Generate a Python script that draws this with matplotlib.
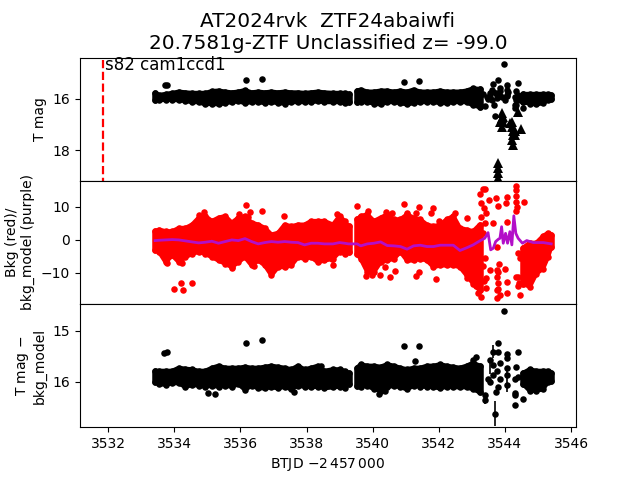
#!/usr/bin/env python3
"""Three stacked TESS panels for AT2024rvk: light curve, background, corrected mag."""
import matplotlib
matplotlib.use("Agg")
import matplotlib.pyplot as plt

SECTOR_START = 3531.84

# times of the dense band; the band is split at the data gap
X_A = [3533.42, 3533.54, 3533.74, 3533.94, 3534.14, 3534.34, 3534.54, 3534.74, 3534.94,
       3535.14, 3535.34, 3535.54, 3535.74, 3535.94, 3536.14, 3536.34, 3536.54, 3536.74,
       3536.94, 3537.14, 3537.34, 3537.54, 3537.74, 3537.94, 3538.14, 3538.34, 3538.54,
       3538.80, 3539.00, 3539.15, 3539.27]
X_B = [3539.53, 3539.64, 3539.84, 3540.04, 3540.24, 3540.44, 3540.64, 3540.84, 3541.04,
       3541.24, 3541.44, 3541.64, 3541.84, 3542.04, 3542.24, 3542.44, 3542.64, 3542.84,
       3543.04, 3543.24]
X_C = [3544.55, 3544.75, 3544.95, 3545.15, 3545.30, 3545.40]

# top panel: T mag envelope of the band
MAG_HI_A = [15.78, 15.86, 15.82, 15.78, 15.73, 15.76, 15.78, 15.78, 15.78, 15.71, 15.69,
            15.73, 15.76, 15.73, 15.67, 15.76, 15.73, 15.76, 15.73, 15.76, 15.73, 15.76,
            15.76, 15.78, 15.76, 15.73, 15.76, 15.78, 15.78, 15.78, 15.82]
MAG_LO_A = [16.06, 16.06, 16.04, 16.04, 16.06, 16.09, 16.13, 16.13, 16.22, 16.19, 16.22,
            16.17, 16.13, 16.10, 16.17, 16.13, 16.13, 16.17, 16.13, 16.17, 16.19, 16.13,
            16.13, 16.13, 16.13, 16.10, 16.13, 16.13, 16.13, 16.17, 16.13]
MAG_HI_B = [15.69, 15.65, 15.73, 15.73, 15.69, 15.69, 15.73, 15.69, 15.73, 15.65, 15.73,
            15.73, 15.73, 15.69, 15.73, 15.73, 15.73, 15.69, 15.60, 15.63]
MAG_LO_B = [16.13, 16.13, 16.13, 16.19, 16.22, 16.13, 16.13, 16.17, 16.22, 16.17, 16.13,
            16.13, 16.13, 16.17, 16.17, 16.13, 16.13, 16.13, 16.26, 16.32]
MAG_HI_C = [15.82, 15.82, 15.82, 15.82, 15.82, 15.86]
MAG_LO_C = [16.13, 16.19, 16.22, 16.17, 16.06, 16.00]

# top panel: single points off the band and around the flare
MAG_PT_X = [3533.73, 3533.78, 3536.17, 3536.65, 3540.95, 3541.40, 3543.98, 3543.80, 3543.65,
            3544.05, 3544.40, 3544.05, 3543.60, 3543.72, 3543.85, 3544.05, 3543.55, 3543.75,
            3543.67, 3543.70, 3543.39, 3544.30, 3544.32, 3544.56, 3544.05, 3543.85, 3544.35,
            3544.37, 3543.90, 3544.00, 3543.60, 3543.50, 3544.35, 3543.35, 3543.45, 3543.55,
            3543.65, 3543.75, 3543.85, 3544.10, 3544.30, 3544.40, 3544.45, 3544.35]
MAG_PT_Y = [15.45, 15.45, 15.26, 15.23, 15.35, 15.30, 14.64, 15.28, 15.41,
            15.45, 15.39, 15.65, 15.65, 15.78, 15.71, 15.91, 15.78, 15.98,
            16.24, 16.67, 16.30, 16.24, 16.37, 16.37, 15.84, 15.58, 15.71,
            15.91, 15.95, 16.05, 16.05, 16.00, 16.05, 15.80, 15.95, 15.95,
            15.75, 15.85, 15.90, 15.75, 15.95, 15.85, 16.05, 16.25]

# top panel: upper limits
LIM_X = [3543.80, 3543.80, 3543.80, 3543.80, 3543.90, 3543.90, 3543.85, 3543.95, 3543.90,
         3544.20, 3544.20, 3544.25, 3544.25, 3544.30, 3544.20, 3544.25, 3544.50, 3544.40,
         3543.95, 3544.15, 3544.30]
LIM_Y = [18.50, 18.70, 18.90, 19.10, 16.55, 16.75, 16.90, 16.90, 17.10,
         16.90, 17.10, 17.25, 17.40, 17.40, 17.60, 17.80, 17.20, 16.50,
         16.70, 16.95, 17.25]

# middle panel: background envelope of the band
RED_HI_A = [2.6, 3.1, 2.6, 2.6, 3.6, 3.6, 4.6, 6.7, 7.2, 5.7, 6.7, 7.2, 5.2, 6.7, 7.2, 5.2,
            4.6, 3.6, 1.6, 2.1, 4.6, 4.1, 4.6, 4.6, 5.7, 5.7, 5.7, 4.6, 7.2, 5.7, 4.1]
RED_LO_A = [-3.1, -3.6, -6.7, -4.7, -6.7, -5.2, -4.2, -3.6, -4.2, -5.2, -6.2, -7.2, -8.2, -6.7,
            -5.2, -7.7, -6.2, -7.7, -10.7, -8.2, -8.2, -7.7, -5.2, -5.7, -5.2, -6.7, -6.2,
            -5.7, -3.6, -4.2, -3.6]
RED_HI_B = [6.2, 7.2, 7.7, 5.7, 6.7, 7.7, 6.2, 6.2, 7.7, 6.7, 6.2, 4.6, 4.1, 4.6, 6.2, 7.2,
            3.6, 3.1, 2.6, 4.6]
RED_LO_B = [-4.2, -5.7, -9.7, -9.7, -6.7, -6.2, -5.7, -3.6, -6.2, -6.2, -5.7, -6.2, -8.2, -7.7,
            -7.7, -7.7, -8.2, -10.7, -13.2, -15.3]
RED_HI_C = [-2.4, -0.9, -0.9, 1.1, 2.1, 1.6]
RED_LO_C = [-13.2, -14.2, -10.2, -8.7, -5.2, -2.1]

RED_PT_X = [3533.98, 3534.20, 3534.28, 3534.55, 3536.16, 3536.29, 3536.65, 3535.95, 3537.31,
            3536.22, 3535.74, 3536.40, 3534.22, 3533.77, 3534.91, 3534.76, 3538.78, 3538.80,
            3538.92, 3539.53, 3539.86, 3540.40, 3540.59, 3540.95, 3541.40, 3541.04, 3541.32,
            3541.83, 3541.75, 3542.48, 3542.86, 3542.01, 3539.80, 3539.98, 3540.22, 3540.53,
            3540.68, 3540.37, 3541.30, 3541.39, 3541.92, 3542.86,
            3543.34, 3543.26, 3543.39, 3543.29, 3543.36, 3543.29, 3543.42, 3543.53, 3543.72,
            3543.80, 3544.05, 3544.03, 3544.33, 3544.35, 3544.33, 3544.33, 3544.59, 3544.05,
            3543.65, 3543.39, 3543.55, 3543.75, 3543.83, 3544.00, 3544.07, 3543.75, 3543.80,
            3543.75, 3543.85, 3543.75, 3544.07, 3544.45, 3544.40, 3544.33, 3544.40, 3543.14,
            3543.29, 3543.19, 3543.44, 3543.39, 3544.40, 3544.45, 3543.77, 3543.34,
            3543.34, 3543.38, 3543.44, 3543.78, 3543.78, 3544.34, 3544.36, 3544.42]
RED_PT_Y = [-14.9, -13.1, -15.3, -13.1, 10.5, 8.4, 8.7, 7.8, 7.2,
            6.9, -8.6, -8.0, -7.1, -7.1, 8.4, 7.6, -5.9, -7.7,
            7.8, 10.3, 8.8, 8.4, 8.1, 10.9, 9.9, 8.1, 8.1,
            9.6, 8.1, 8.1, 6.6, 5.8, -10.8, -10.5, -10.7, -11.3,
            -9.4, -8.3, -11.0, -9.8, -11.9, -11.6,
            15.4, 13.9, 15.4, 11.1, 9.6, 6.9, 8.1, 12.1, 12.6,
            10.3, 13.1, 11.3, 16.4, 15.2, 11.6, 8.9, 11.6, 5.3,
            5.1, 5.0, -9.1, -9.1, -7.4, -8.9, -12.6, -11.1, -13.1,
            -15.2, -16.7, -17.7, -16.2, -16.7, -11.1, -11.1, -14.1, -14.1,
            -17.2, -16.2, -11.6, -5.6, -4.0, -5.6, -2.0, 2.0,
            -8.0, -12.5, -14.5, -14.8, -9.8, 13.2, 10.0, -13.0]

# middle panel: background model
MODEL_X_FLARE = [3543.39, 3543.49, 3543.57, 3543.65, 3543.72, 3543.80, 3543.85, 3543.90,
                 3543.95, 3544.02, 3544.08, 3544.15, 3544.21, 3544.27, 3544.33, 3544.40,
                 3544.53, 3544.66, 3544.86, 3545.16, 3545.40]
MODEL_Y_FLARE = [0.5, 2.2, -3.0, -2.5, -0.5, 0.2, 0.5, 4.0,
                 -1.0, 2.0, -1.0, 2.5, -1.5, 7.3, 2.0, 0.5,
                 -1.0, -0.2, -0.8, -0.8, -1.2]
MODEL_Y_A = [-0.2, -0.1, 0.0, 0.1, 0.0, -0.3, -0.6, -0.9, -0.7, -0.4, -1.0, -0.5, 0.0, -0.2,
             0.4, -0.5, -1.2, -0.8, -0.5, -0.7, -0.5, -0.7, -0.8, -1.5, -1.0, -1.0, -1.2,
             -1.2, -0.8, -1.0, -1.2]
MODEL_Y_B = [-1.2, -1.8, -1.2, -1.0, -0.6, -1.7, -1.8, -2.0, -2.8, -1.8, -1.6, -2.0, -2.0, -1.6,
             -1.6, -1.6, -3.2, -2.4, -1.5, -0.3]

# bottom panel: corrected mag envelope
COR_HI_A = [15.79, 15.79, 15.79, 15.79, 15.73, 15.75, 15.76, 15.79, 15.79, 15.73, 15.69,
            15.73, 15.73, 15.73, 15.71, 15.73, 15.73, 15.71, 15.69, 15.71, 15.73, 15.76,
            15.69, 15.76, 15.73, 15.69, 15.79, 15.76, 15.76, 15.79, 15.83]
COR_LO_A = [16.01, 16.05, 16.06, 16.03, 16.03, 16.11, 16.06, 16.08, 16.10, 16.08, 16.10,
            16.08, 16.10, 16.05, 16.16, 16.08, 16.13, 16.13, 16.11, 16.13, 16.10, 16.15,
            16.08, 16.10, 16.11, 16.10, 16.13, 16.11, 16.10, 16.13, 16.05]
COR_HI_B = [15.73, 15.66, 15.69, 15.69, 15.71, 15.66, 15.69, 15.73, 15.76, 15.73, 15.73,
            15.69, 15.69, 15.66, 15.69, 15.71, 15.73, 15.69, 15.63, 15.69]
COR_LO_B = [16.08, 16.10, 16.08, 16.15, 16.18, 16.11, 16.08, 16.11, 16.15, 16.08, 16.10,
            16.10, 16.11, 16.13, 16.10, 16.11, 16.11, 16.11, 16.15, 16.21]
COR_HI_C = [15.83, 15.76, 15.79, 15.79, 15.79, 15.83]
COR_LO_C = [16.05, 16.18, 16.18, 16.15, 16.01, 15.98]

COR_PT_X = [3533.68, 3533.78, 3536.17, 3536.65, 3538.44, 3535.01, 3535.24, 3537.63, 3540.95,
            3541.40, 3541.27, 3543.04, 3543.14, 3540.19, 3540.36, 3543.98, 3543.80, 3543.65,
            3543.80, 3544.05, 3544.05, 3544.40, 3543.55, 3543.65, 3543.85, 3543.75, 3543.65,
            3543.85, 3543.55, 3544.05, 3544.05, 3544.07, 3544.35, 3544.40, 3544.30, 3543.78,
            3543.72, 3543.70, 3544.31, 3544.32, 3544.32, 3544.56, 3543.39, 3543.39, 3543.49]
COR_PT_Y = [15.44, 15.42, 15.24, 15.18, 15.69, 16.23, 16.25, 16.21, 15.30,
            15.30, 15.59, 15.57, 15.52, 16.25, 16.19, 14.60, 15.24, 15.41,
            15.42, 15.46, 15.54, 15.41, 15.57, 15.67, 15.64, 15.80, 15.87,
            15.94, 16.00, 15.74, 15.87, 16.07, 15.71, 15.90, 15.94, 16.10,
            16.21, 16.63, 16.22, 16.27, 16.47, 16.35, 16.27, 16.37, 15.94]
COR_ERR_X = [3543.70, 3543.65, 3543.39, 3543.55, 3544.07]
COR_ERR_Y = [16.63, 15.41, 16.37, 15.70, 16.00]
COR_ERR = [0.24, 0.13, 0.08, 0.15, 0.20]

MS = 4.7


def band(ax, xs, lo, hi, color):
    ax.fill_between(xs, lo, hi, color=color, lw=0, zorder=2)
    for edge in (lo, hi):
        # thinner line than the dots keeps a bit of bumpiness along the edge
        ax.plot(xs, edge, color=color, lw=3.2, solid_capstyle="round", zorder=2)
        ax.plot(xs, edge, "o", color=color, ms=MS, mew=0, zorder=2)
    # round off both ends of the band
    for i in (0, -1):
        ax.plot([xs[i], xs[i]], [lo[i], hi[i]], color=color, lw=MS,
                solid_capstyle="round", zorder=2)


fig, (ax1, ax2, ax3) = plt.subplots(3, 1, sharex=True)
fig.subplots_adjust(hspace=0)

# light curve
band(ax1, X_A, MAG_LO_A, MAG_HI_A, "k")
band(ax1, X_B, MAG_LO_B, MAG_HI_B, "k")
band(ax1, X_C, MAG_LO_C, MAG_HI_C, "k")
ax1.plot(MAG_PT_X, MAG_PT_Y, "o", color="k", ms=MS, mew=0)
ax1.plot(LIM_X, LIM_Y, "^", color="k", ms=7, mew=0)
ax1.plot([SECTOR_START, SECTOR_START], [14.5, 19.2], "--", color="r", lw=1.6)
ax1.text(SECTOR_START + 0.08, 14.88, "s82 cam1ccd1", fontsize=12)
ax1.set_ylim(19.2, 14.4)
ax1.set_yticks([16, 18])
ax1.set_ylabel("T mag")
ax1.set_title("AT2024rvk  ZTF24abaiwfi\n20.7581g-ZTF Unclassified z= -99.0", fontsize=14.4)
ax1.tick_params(axis="x", bottom=False)

# background
band(ax2, X_A, RED_LO_A, RED_HI_A, "r")
band(ax2, X_B, RED_LO_B, RED_HI_B, "r")
band(ax2, X_C, RED_LO_C, RED_HI_C, "r")
ax2.plot(RED_PT_X, RED_PT_Y, "o", color="r", ms=MS, mew=0)
ax2.plot(X_A + X_B + MODEL_X_FLARE, MODEL_Y_A + MODEL_Y_B + MODEL_Y_FLARE,
         color="#b30fc8", lw=2.0, zorder=4)
ax2.set_ylim(-19.4, 17.9)
ax2.set_yticks([-10, 0, 10])
ax2.set_ylabel("Bkg (red)/\nbkg_model (purple)")
ax2.tick_params(axis="x", bottom=False)

# corrected
band(ax3, X_A, COR_LO_A, COR_HI_A, "k")
band(ax3, X_B, COR_LO_B, COR_HI_B, "k")
band(ax3, X_C, COR_LO_C, COR_HI_C, "k")
ax3.plot(COR_PT_X, COR_PT_Y, "o", color="k", ms=MS, mew=0)
ax3.errorbar(COR_ERR_X, COR_ERR_Y, yerr=COR_ERR, fmt="none", ecolor="k", elinewidth=1.2)
ax3.set_ylim(16.9, 14.47)
ax3.set_yticks([15, 16])
ax3.set_ylabel("T mag $-$\nbkg_model")

ax3.set_xlim(3531.15, 3546.15)
ax3.set_xticks([3532, 3534, 3536, 3538, 3540, 3542, 3544, 3546])
ax3.set_xlabel(r"BTJD $-2\,457\,000$")

fig.savefig("out.png", dpi=100)
